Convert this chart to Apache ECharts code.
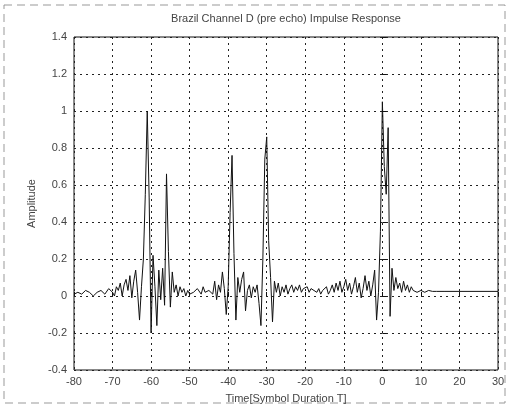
<!DOCTYPE html>
<html>
<head>
<meta charset="utf-8">
<script src="https://cdn.jsdelivr.net/npm/echarts@6/dist/echarts.min.js"></script>
<style>
html,body{margin:0;padding:0;background:#fff;}
#chart{width:509px;height:410px;}
</style>
</head>
<body>
<div id="chart"></div>
<script>
var titleText = 'Brazil Channel D (pre echo) Impulse Response';
var xAxisTitle = 'Time[Symbol Duration T]';
var yAxisTitle = 'Amplitude';

// time samples [symbol durations T]
var times = [
  -80,-79,-78,-77,-76,-75,-74,-73,-72,-71,-70,
  -69.5,-69,-68.5,-68,-67.5,-67,-66.5,-66,-65.5,-65,-64.5,-64,-63.5,-63,-62.5,-62,
  -61.5,-61,-60.5,-60,-59.5,-59,-58.5,-58,-57.5,-57,-56.5,-56,-55.5,-55,-54.5,-54,
  -53.5,-53,-52.5,-52,-51.5,-51,-50.5,-50,
  -49,-48,-47,-46.5,-46,-45,-44,-43.5,-43,-42.5,-42,-41.5,-41,-40.5,-40,
  -39.5,-39,-38.5,-38,-37.5,-37,-36.5,-36,-35.5,-35,-34.5,-34,-33.5,-33,-32.5,-32,
  -31.5,-31,-30.5,-30,-29.5,-29,-28.5,-28,-27.5,-27,-26.5,-26,-25.5,-25,-24.5,-24,
  -23.5,-23,-22.5,-22,-21.5,-21,-20.5,-20,-19.5,-19,-18.5,-18,-17,-16.5,-16,-15.5,
  -15,-14.5,-14,-13.5,-13,-12.5,-12,-11.5,-11,-10.5,-10,-9.5,-9,-8.5,-8,-7.5,-7,
  -6.5,-6,-5.5,-5,-4.5,-4,-3.5,-3,-2.5,-2,-1.5,-1,-0.5,0,0.5,1,1.5,2,2.5,3,3.5,4,
  4.5,5,5.5,6,6.5,7,7.5,8,8.5,9,10,11,12,13,14,16,30
];

// amplitude (real part of impulse response)
var amps = [
  0.01,0.02,0.01,0.03,0.02,0.00,0.02,0.03,0.01,0.04,0.02,
  0.00,0.05,0.03,0.07,0.00,0.06,0.09,0.03,0.11,-0.01,0.08,0.14,0.02,-0.13,0.05,0.20,
  0.55,1.00,0.53,-0.20,0.22,0.05,-0.16,0.14,-0.02,0.15,-0.05,0.66,0.24,-0.06,0.13,0.02,
  0.06,0.00,0.05,0.02,0.04,0.00,0.03,0.01,
  0.02,0.04,0.01,0.05,0.02,0.03,0.01,0.08,-0.02,0.06,0.02,0.13,0.04,-0.10,0.05,
  0.45,0.76,0.23,-0.13,0.10,0.02,0.09,0.13,-0.08,0.03,0.06,-0.01,0.05,0.02,0.06,-0.04,
  -0.16,0.20,0.74,0.86,0.30,0.10,-0.14,0.08,0.02,0.07,0.00,0.05,0.02,0.06,0.01,0.04,
  0.06,0.02,0.05,0.03,0.06,0.02,0.04,0.03,0.05,0.02,0.04,0.03,0.02,0.04,0.01,0.03,
  0.02,0.05,0.01,0.03,0.06,0.02,0.07,0.03,0.08,0.02,0.05,0.09,0.03,0.07,0.01,0.05,0.10,
  0.02,0.07,-0.01,0.04,0.11,0.03,0.08,0.00,0.06,0.14,-0.13,0.02,0.35,1.05,0.70,0.55,0.91,-0.11,0.15,0.03,0.10,0.04,
  0.07,0.02,0.08,0.03,0.06,0.02,0.05,0.03,0.04,0.02,0.03,0.02,0.03,0.025,0.025,0.025,0.025
];

var xTicks = [-80,-70,-60,-50,-40,-30,-20,-10,0,10,20,30];
var yTicks = [-0.4,-0.2,0,0.2,0.4,0.6,0.8,1,1.2,1.4];

var data = times.map(function(t,i){ return [t, amps[i]]; });

var chart = echarts.init(document.getElementById('chart'), null, {renderer:'canvas'});
var font = 'Liberation Sans, Arial, sans-serif';
var gridLine = {show:true, lineStyle:{color:'#222', width:1, type:[2,4]}};

chart.setOption({
  animation:false,
  backgroundColor:'#fff',
  grid:{left:74, right:11, top:37, bottom:40, show:true, borderColor:'#111', borderWidth:1, backgroundColor:'transparent'},
  graphic:[
    {type:'rect', shape:{x:4,y:5,width:501,height:398}, style:{fill:'none', stroke:'#999', lineWidth:1, lineDash:[8,5]}, silent:true},
    {type:'text', x:286, y:19, style:{text:titleText, font:'11px '+font, fill:'#444', textAlign:'center', textVerticalAlign:'middle'}}
  ],
  xAxis:{
    type:'value', min:xTicks[0], max:xTicks[xTicks.length-1], interval:10,
    name:xAxisTitle, nameLocation:'middle', nameGap:23,
    nameTextStyle:{color:'#444', fontSize:11, fontFamily:font},
    axisLine:{show:false},
    axisTick:{show:true, inside:true, length:4, lineStyle:{color:'#111'}},
    axisLabel:{color:'#444', fontSize:11, fontFamily:font, margin:6},
    splitLine:gridLine
  },
  yAxis:{
    type:'value', min:yTicks[0], max:yTicks[yTicks.length-1], interval:0.2,
    name:yAxisTitle, nameLocation:'middle', nameGap:36,
    nameTextStyle:{color:'#444', fontSize:11, fontFamily:font},
    axisLine:{show:false},
    axisTick:{show:true, inside:true, length:4, lineStyle:{color:'#111'}},
    axisLabel:{color:'#444', fontSize:11, fontFamily:font, margin:7},
    splitLine:gridLine
  },
  series:[{
    type:'line', data:data, showSymbol:false, symbol:'none',
    lineStyle:{color:'#111', width:1}, z:3
  }]
});
</script>
</body>
</html>
